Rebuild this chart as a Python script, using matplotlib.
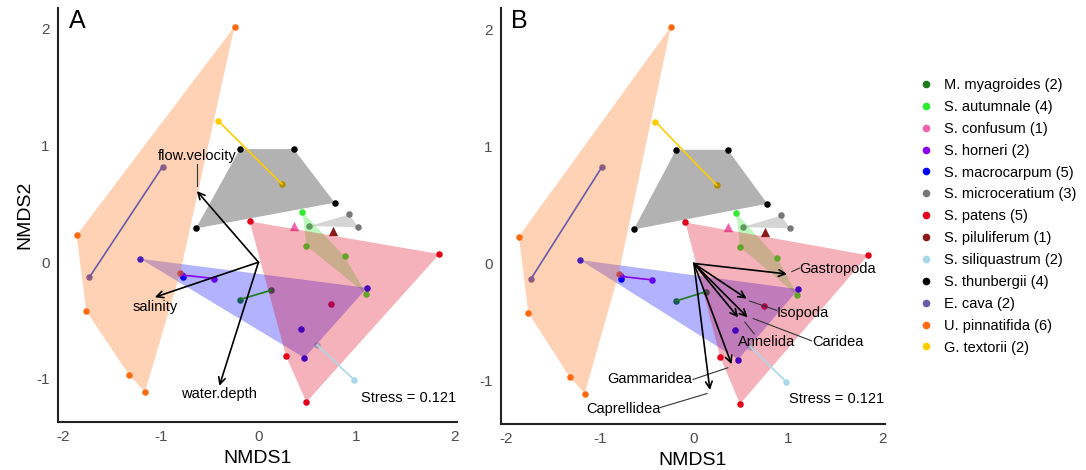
import matplotlib.pyplot as plt
from matplotlib.lines import Line2D
from matplotlib.patches import Polygon

plt.rcParams['font.family'] = ['Liberation Sans', 'DejaVu Sans']
plt.rcParams['axes.unicode_minus'] = False

# --- data: NMDS site scores per seaweed species ---
species = ["M. myagroides", "S. autumnale", "S. confusum", "S. horneri",
           "S. macrocarpum", "S. microceratium", "S. patens", "S. piluliferum",
           "S. siliquastrum", "S. thunbergii", "E. cava", "U. pinnatifida",
           "G. textorii"]
counts = [2, 4, 1, 2, 5, 3, 5, 1, 2, 4, 2, 6, 2]

site_x = [
    [-0.19, 0.13],
    [0.45, 0.49, 0.88, 1.10],
    [0.36],
    [-0.78, -0.45],
    [-1.21, -0.77, 1.11, 0.44, 0.47],
    [0.93, 1.02, 0.52],
    [-0.09, 1.85, 0.74, 0.28, 0.49],
    [0.76],
    [0.60, 0.98],
    [-0.19, 0.36, 0.78, -0.64],
    [-0.98, -1.73],
    [-0.245, -1.86, -1.76, -1.32, -1.16, -0.80],
    [-0.41, 0.24],
]
site_y = [
    [-0.32, -0.24],
    [0.43, 0.14, 0.05, -0.27],
    [0.31],
    [-0.11, -0.14],
    [0.03, -0.13, -0.22, -0.57, -0.82],
    [0.41, 0.30, 0.31],
    [0.35, 0.07, -0.36, -0.80, -1.20],
    [0.27],
    [-0.71, -1.01],
    [0.97, 0.97, 0.51, 0.29],
    [0.82, -0.13],
    [2.02, 0.23, -0.42, -0.97, -1.11, -0.09],
    [1.21, 0.67],
]

env_names = ["flow.velocity", "salinity", "water.depth"]
env_x = [-0.63, -1.06, -0.40]
env_y = [0.61, -0.30, -1.06]

taxa_names = ["Gastropoda", "Isopoda", "Caridea", "Annelida", "Gammaridea", "Caprellidea"]
taxa_x = [0.99, 0.56, 0.57, 0.47, 0.40, 0.17]
taxa_y = [-0.09, -0.30, -0.46, -0.46, -0.86, -1.08]

stress = 0.121

# --- styles / layout ---
colors = ["#1E7B1E", "#2EEB2E", "#F062B0", "#8A00F0", "#0000FF", "#777777",
          "#E3001B", "#8B1A1A", "#A8D8EA", "#000000", "#6A5AAA", "#FF6A10",
          "#FFCC00"]

env_label_pos = [(-0.63, 0.91), (-1.06, -0.38), (-0.40, -1.13)]
env_links = [((-0.63, 0.84), (-0.63, 0.65)), None, None]

taxa_label_pos = [(1.53, -0.05), (1.16, -0.42), (1.53, -0.67), (0.77, -0.67),
                  (-0.47, -0.99), (-0.75, -1.24)]
taxa_links = [((1.12, -0.04), (1.04, -0.07)), ((0.88, -0.40), (0.59, -0.32)),
              ((1.25, -0.66), (0.63, -0.47)), ((0.64, -0.60), (0.54, -0.50)),
              ((-0.01, -0.99), (0.36, -0.89)), ((-0.36, -1.23), (0.14, -1.11))]


def convex_hull(pts):
    pts = sorted(set(pts))
    if len(pts) < 3:
        return pts

    def cross(o, a, b):
        return (a[0] - o[0]) * (b[1] - o[1]) - (a[1] - o[1]) * (b[0] - o[0])

    lower, upper = [], []
    for p in pts:
        while len(lower) >= 2 and cross(lower[-2], lower[-1], p) <= 0:
            lower.pop()
        lower.append(p)
    for p in reversed(pts):
        while len(upper) >= 2 and cross(upper[-2], upper[-1], p) <= 0:
            upper.pop()
        upper.append(p)
    return lower[:-1] + upper[:-1]


def draw_sites(ax):
    for xs, ys, c in zip(site_x, site_y, colors):
        if len(xs) == 1:
            ax.scatter(xs, ys, marker="^", s=45, color=c, zorder=2, linewidths=0)
            continue
        ax.scatter(xs, ys, s=22, color=c, zorder=2, linewidths=0)
        if len(xs) == 2:
            # two-site species: joined by a line drawn over the hulls
            ax.plot(xs, ys, color=c, lw=1.2, zorder=4)
        else:
            hull = convex_hull(list(zip(xs, ys)))
            ax.add_patch(Polygon(hull, closed=True, facecolor=c, alpha=0.3,
                                 edgecolor="none", zorder=3))


def style_axes(ax, letter):
    ax.set_xlim(-2.05, 2.03)
    ax.set_ylim(-1.37, 2.18)
    ax.set_xticks([-2, -1, 0, 1, 2])
    ax.set_yticks([-1, 0, 1, 2])
    for s in ["top", "right"]:
        ax.spines[s].set_visible(False)
    for s in ["left", "bottom"]:
        ax.spines[s].set_linewidth(1.5)
        ax.spines[s].set_color("#222222")
    ax.tick_params(length=0, labelsize=11, labelcolor="#4D4D4D", pad=6)
    ax.set_xlabel("NMDS1", fontsize=14, labelpad=4)
    ax.text(0.027, 0.969, letter, transform=ax.transAxes, fontsize=18,
            ha="left", va="center")
    ax.text(2.02, -1.16, f"Stress = {stress}", fontsize=10.5, ha="right", va="center")


def draw_arrows(ax, names, xs, ys, label_pos, links):
    for name, x, y, lp, link in zip(names, xs, ys, label_pos, links):
        ax.annotate("", xy=(x, y), xytext=(0, 0),
                    arrowprops=dict(arrowstyle="->", lw=1.2, color="black",
                                    mutation_scale=12, shrinkA=0, shrinkB=0),
                    zorder=5)
        ax.text(lp[0], lp[1], name, fontsize=10.5, ha="center", va="center", zorder=6)
        if link is not None:
            ax.plot([link[0][0], link[1][0]], [link[0][1], link[1][1]],
                    color="#333333", lw=0.8, zorder=5)


fig = plt.figure(figsize=(10.86, 4.70), dpi=100)
axA = fig.add_axes([0.0534, 0.1021, 0.3674, 0.881])
axB = fig.add_axes([0.4613, 0.0979, 0.3536, 0.885])

draw_sites(axA)
draw_arrows(axA, env_names, env_x, env_y, env_label_pos, env_links)
style_axes(axA, "A")
axA.set_ylabel("NMDS2", fontsize=14, labelpad=2)

draw_sites(axB)
draw_arrows(axB, taxa_names, taxa_x, taxa_y, taxa_label_pos, taxa_links)
style_axes(axB, "B")

handles = [Line2D([], [], marker="o", linestyle="none", markersize=5.5,
                  markerfacecolor=c, markeredgecolor="none") for c in colors]
labels = [f"{s} ({n})" for s, n in zip(species, counts)]
fig.legend(handles, labels, loc="upper left", bbox_to_anchor=(0.846, 0.834),
           frameon=False, fontsize=10.5, handlelength=1.0, handletextpad=0.75,
           labelspacing=0.54, borderpad=0, borderaxespad=0)

fig.savefig("out.png", dpi=100)
